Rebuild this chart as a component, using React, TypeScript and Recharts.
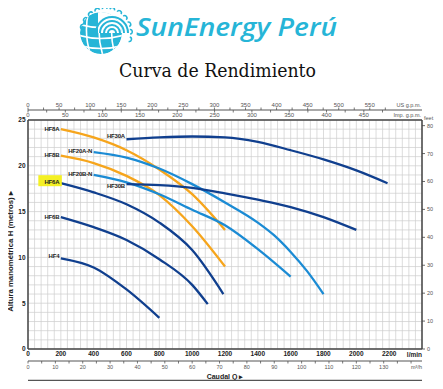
import React from 'react';
import {CartesianGrid, ComposedChart, LabelList, Line, XAxis, YAxis} from 'recharts';

// caudal (l/min) y altura (m)
const hf8aQ = [200, 400, 600, 800, 1000, 1200];
const hf8aH = [24.0, 23.1, 21.7, 19.6, 16.9, 13.0];
const hf8bQ = [200, 400, 600, 800, 1000, 1200];
const hf8bH = [21.1, 20.3, 18.9, 16.8, 13.4, 9.0];
const hf30aQ = [600, 800, 1000, 1200, 1400, 1600, 1800, 2000, 2190];
const hf30aH = [22.9, 23.1, 23.2, 23.1, 22.6, 21.7, 20.7, 19.5, 18.1];
const hf30bQ = [600, 800, 1000, 1200, 1400, 1600, 1800, 2000];
const hf30bH = [18.0, 17.9, 17.6, 17.0, 16.3, 15.5, 14.4, 13.0];
const hf20anQ = [400, 600, 800, 1000, 1200, 1400, 1500, 1600, 1700, 1800];
const hf20anH = [21.5, 20.9, 19.7, 18.0, 16.0, 13.8, 12.4, 10.6, 8.5, 6.0];
const hf20bnQ = [400, 600, 800, 1000, 1200, 1400, 1600];
const hf20bnH = [19.0, 18.2, 16.9, 15.2, 13.5, 10.9, 7.9];
const hf6aQ = [200, 400, 600, 800, 1000, 1190];
const hf6aH = [18.1, 17.1, 15.8, 13.8, 10.8, 6.0];
const hf6bQ = [200, 400, 600, 800, 1000, 1095];
const hf6bH = [14.4, 13.3, 11.9, 9.8, 7.0, 4.9];
const hf4Q = [200, 400, 600, 800];
const hf4H = [9.9, 8.9, 6.5, 3.4];

// etiquetas de los ejes
const qLabels = [0, 200, 400, 600, 800, 1000, 1200, 1400, 1600, 1800, 2000, 2200];
const hLabels = [0, 5, 10, 15, 20, 25];
const m3Labels = [0, 10, 20, 30, 40, 50, 60, 70, 80, 90, 100, 110, 120, 130];
const usLabels = [0, 50, 100, 150, 200, 250, 300, 350, 400, 450, 500, 550];
const impLabels = [0, 50, 100, 150, 200, 250, 300, 350, 400, 450];
const ftLabels = [0, 10, 20, 30, 40, 50, 60, 70, 80];

const step = (end: number, by: number) => Array.from({length: Math.round(end / by) + 1}, (_, i) => i * by);
const qGrid = step(2400, 40);
const hGrid = step(25, 1);
const m3Ticks = step(140, 5);
const usTicks = step(575, 25);
const impTicks = step(475, 25);

const zip = (qs: number[], hs: number[]) => qs.map((q, i) => ({q, h: hs[i]}));

const ORANGE = '#f6a51c';
const LIGHT = '#1b8bd4';
const NAVY = '#103f8e';
const CYAN = '#26b5d7';
const FONT = "'Liberation Sans', Arial, sans-serif";

const curves = [
    {name: 'HF8A', data: zip(hf8aQ, hf8aH), color: ORANGE, dy: 0},
    {name: 'HF8B', data: zip(hf8bQ, hf8bH), color: ORANGE, dy: -1},
    {name: 'HF30A', data: zip(hf30aQ, hf30aH), color: NAVY, dy: -3},
    {name: 'HF20A-N', data: zip(hf20anQ, hf20anH), color: LIGHT, dy: -1},
    {name: 'HF20B-N', data: zip(hf20bnQ, hf20bnH), color: LIGHT, dy: -1},
    {name: 'HF30B', data: zip(hf30bQ, hf30bH), color: NAVY, dy: 2},
    {name: 'HF6A', data: zip(hf6aQ, hf6aH), color: NAVY, dy: -1},
    {name: 'HF6B', data: zip(hf6bQ, hf6bH), color: NAVY, dy: 0},
    {name: 'HF4', data: zip(hf4Q, hf4H), color: NAVY, dy: -2},
];

const startLabel = (name: string, dy: number) => (props: any) => {
    if (props.index !== 0) return null;
    const x = props.x ?? props.viewBox?.x;
    const y = (props.y ?? props.viewBox?.y) + dy;
    return (
        <g>
            {name === 'HF6A' &&
                <rect x={x - 22.5} y={y - 7} width={23.5} height={11} fill="#f4f024"/>}
            <text x={x - 1.5} y={y + 2} textAnchor="end" fontSize={6} fontWeight={700}
                  fontFamily={FONT} fill="#222" letterSpacing={-0.2}>{name}</text>
        </g>
    );
};

const ImpTick = (props: any) => {
    const {x, y, payload} = props;
    const v = payload.value;
    return (
        <g>
            <line x1={x} x2={x} y1={y - 10} y2={y - 7.5} stroke="#555" strokeWidth={0.8}/>
            {impLabels.includes(v) &&
                <text x={x} y={y - 3.2} textAnchor="middle" fontSize={6} fontFamily={FONT} fill="#555">{v}</text>}
        </g>
    );
};

const LeftLabel = (props: any) => {
    const {x, y, height} = props.viewBox;
    const cx = x + 10;
    const cy = y + height / 2 + 17;
    return (
        <g>
            <line x1={x + 3} x2={x + 3} y1={y - 17} y2={y + height + 18} stroke="#666" strokeWidth={1.4}/>
            <text x={cx} y={cy} transform={`rotate(-90 ${cx} ${cy})`} textAnchor="middle"
                  dominantBaseline="central" fontSize={7.8} fontWeight={700} fontFamily={FONT} fill="#222">
                Altura manométrica H (metros)  ▸
            </text>
        </g>
    );
};

const FeetLabel = (props: any) => {
    const {x, y} = props.viewBox;
    return <text x={x + 2} y={y - 0.5} fontSize={5.5} fontFamily={FONT} fill="#555">feet</text>;
};

const M3Label = (props: any) => {
    const {x, y, width, height} = props.viewBox;
    return (
        <g>
            <text x={x + width} y={y + height / 2 + 2} textAnchor="end" fontSize={5.5}
                  fontFamily={FONT} fill="#555">m³/h</text>
            <text x={x + width / 2} y={y + height + 5.5} textAnchor="middle" fontSize={7}
                  fontWeight={700} fontFamily={FONT} fill="#222">Caudal Q  ▸</text>
            <line x1={x} x2={x + width} y1={y + height + 7.5} y2={y + height + 7.5} stroke="#555" strokeWidth={1.4}/>
        </g>
    );
};

const Header = () => {
    const bumps = [-165, -147, -129, -111, -93, -75, -57, -39, -21, -3, 15];
    return (
        <svg width={443} height={92} style={{position: 'absolute', left: 0, top: 0}}>
            <defs>
                <clipPath id="globe"><circle cx={101} cy={33} r={21}/></clipPath>
            </defs>
            <g clipPath="url(#globe)">
                <circle cx={101} cy={33} r={21} fill={CYAN}/>
                <path d="M78 24 Q101 31 124 24" stroke="#fff" strokeWidth={1.6} fill="none"/>
                <path d="M78 35 Q101 42 124 35" stroke="#fff" strokeWidth={1.6} fill="none"/>
                <path d="M78 45 Q101 52 124 45" stroke="#fff" strokeWidth={1.6} fill="none"/>
                <path d="M89 10 Q83 33 91 56" stroke="#fff" strokeWidth={1.6} fill="none"/>
                <path d="M101 10 Q96 33 103 56" stroke="#fff" strokeWidth={1.6} fill="none"/>
                <path d="M113 10 Q109 33 115 56" stroke="#fff" strokeWidth={1.6} fill="none"/>
                <path d="M98 33 L98 5 L130 5 L130 33 Z" fill="#fff"/>
            </g>
            {[4, 8, 12, 16].map(r =>
                <path key={r} d={`M${112 - r} 33 A ${r} ${r} 0 0 1 ${112 + r} 33`} stroke={CYAN}
                      strokeWidth={2} fill="none"/>)}
            {bumps.map(a => {
                const rad = a * Math.PI / 180;
                const px = 106 + 24 * Math.cos(rad);
                const py = 33 + 24 * Math.sin(rad);
                return <path key={a} d="M -2.3 0 A 2.3 2.3 0 0 1 2.3 0"
                             transform={`translate(${px} ${py}) rotate(${a + 90})`}
                             stroke={CYAN} strokeWidth={1.5} fill="none"/>;
            })}
            <text x={136} y={36} fontFamily="'Open Sans', sans-serif" fontStyle="italic" fontWeight={600}
                  fontSize={25} fill={CYAN} textLength={201} lengthAdjust="spacingAndGlyphs">SunEnergy Perú</text>
            <text x={217.5} y={76.5} textAnchor="middle" fontFamily="'DejaVu Serif', serif" fontSize={19}
                  fill="#111" textLength={197} lengthAdjust="spacingAndGlyphs">Curva de Rendimiento</text>
            <line x1={437} x2={437} y1={0} y2={92} stroke="#e4e4e4"/>
        </svg>
    );
};

export default function App() {
    return (
        <div style={{position: 'relative', width: 443, height: 389, margin: -8, background: '#fff', overflow: 'hidden'}}>
            <Header/>
            <div style={{position: 'absolute', left: 0, top: 0}}>
                <ComposedChart width={443} height={389} margin={{top: 100, right: 0, bottom: 16, left: 0}}>
                    <CartesianGrid xAxisId="flow" yAxisId="h" stroke="#cdcdcd" strokeWidth={0.7}/>
                    <XAxis xAxisId="flow" type="number" dataKey="q" domain={[0, 2400]} ticks={qGrid} interval={0}
                           tickFormatter={(v) => qLabels.includes(v) ? String(v) : ''}
                           tickLine={false} tickSize={0} tickMargin={2} height={12}
                           axisLine={{stroke: '#444', strokeWidth: 1.5}}
                           tick={{fontSize: 6.5, fontWeight: 700, fill: '#222', fontFamily: FONT}}
                           label={{value: 'l/min', position: 'insideRight', offset: 0, fontSize: 6.5,
                               fontWeight: 700, fill: '#222', fontFamily: FONT}}/>
                    <XAxis xAxisId="m3" type="number" dataKey="q" domain={[0, 144]} ticks={m3Ticks} interval={0}
                           allowDataOverflow height={12}
                           tickFormatter={(v) => m3Labels.includes(v) ? String(v) : ''}
                           tickSize={2.5} tickMargin={1.5} tickLine={{stroke: '#555', strokeWidth: 0.8}}
                           axisLine={{stroke: '#555', strokeWidth: 1}}
                           tick={{fontSize: 5.5, fill: '#555', fontFamily: FONT}}
                           label={<M3Label/>}/>
                    <XAxis xAxisId="imp" orientation="top" type="number" dataKey="q" domain={[0, 2400 / 4.54609]}
                           ticks={impTicks} interval={0} allowDataOverflow height={10}
                           tickLine={false} tickSize={0} tickMargin={0}
                           axisLine={{stroke: '#444', strokeWidth: 1.5}}
                           tick={<ImpTick/>}
                           label={{value: 'Imp. g.p.m.', position: 'insideRight', offset: 1, fontSize: 5.5,
                               fill: '#555', fontFamily: FONT}}/>
                    <XAxis xAxisId="us" orientation="top" type="number" dataKey="q" domain={[0, 2400 / 3.78541]}
                           ticks={usTicks} interval={0} allowDataOverflow height={10}
                           tickFormatter={(v) => usLabels.includes(v) ? String(v) : ''}
                           tickSize={2.5} tickMargin={0.5} tickLine={{stroke: '#555', strokeWidth: 0.8}}
                           axisLine={{stroke: '#555', strokeWidth: 1}}
                           tick={{fontSize: 6, fill: '#555', fontFamily: FONT}}
                           label={{value: 'US g.p.m.', position: 'insideRight', offset: 1, fontSize: 5.5,
                               fill: '#555', fontFamily: FONT}}/>
                    <YAxis yAxisId="h" type="number" domain={[0, 25]} ticks={hGrid} interval={0} width={28}
                           tickFormatter={(v) => hLabels.includes(v) ? String(v) : ''}
                           tickLine={false} tickSize={0} tickMargin={2.5}
                           axisLine={{stroke: '#444', strokeWidth: 1.5}}
                           tick={{fontSize: 6.5, fontWeight: 600, fill: '#222', fontFamily: FONT}}
                           label={<LeftLabel/>}/>
                    <YAxis yAxisId="ft" orientation="right" type="number" domain={[0, 25 / 0.3048]}
                           ticks={ftLabels} interval={0} allowDataOverflow width={21}
                           tickSize={3} tickMargin={2} tickLine={{stroke: '#444', strokeWidth: 0.8}}
                           axisLine={{stroke: '#444', strokeWidth: 1.5}}
                           tick={{fontSize: 5.5, fill: '#555', fontFamily: FONT}}
                           label={<FeetLabel/>}/>
                    {curves.map(c =>
                        <Line key={c.name} xAxisId="flow" yAxisId="h" data={c.data} dataKey="h" type="monotone"
                              stroke={c.color} strokeWidth={2.3} dot={false} isAnimationActive={false}>
                            <LabelList dataKey="h" content={startLabel(c.name, c.dy)}/>
                        </Line>)}
                </ComposedChart>
            </div>
        </div>
    );
}
